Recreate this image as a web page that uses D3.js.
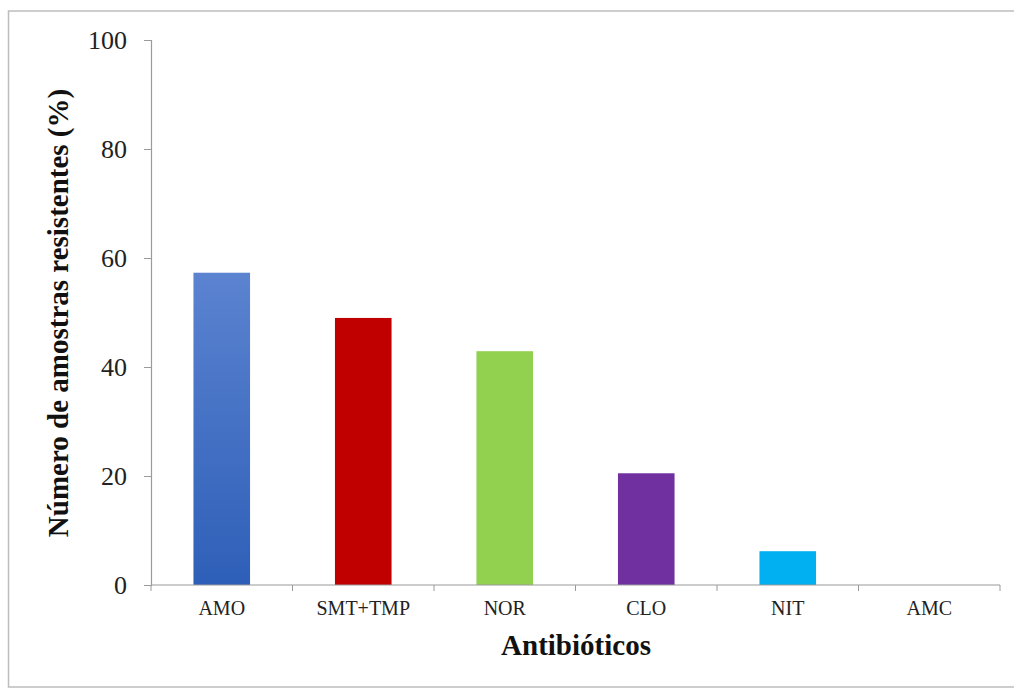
<!DOCTYPE html>
<html><head><meta charset="utf-8">
<script src="https://cdn.jsdelivr.net/npm/d3@7"></script>
<style>body{margin:0;background:#fff;} svg{display:block;}</style>
</head><body>
<svg id="c" width="1014" height="689"></svg>
<script>
const categories = ["AMO", "SMT+TMP", "NOR", "CLO", "NIT", "AMC"];
const values = [57.3, 49.0, 42.9, 20.5, 6.2, 0];
const colors = ["#3f6fc4", "#c00000", "#92d050", "#7030a0", "#00b0f0", "#7f7f7f"];
const yTicks = [0, 20, 40, 60, 80, 100];
const yTitle = "Número de amostras resistentes (%)";
const xTitle = "Antibióticos";

const svg = d3.select("#c");
svg.append("rect").attr("x", 8.5).attr("y", 11).attr("width", 1010).attr("height", 676)
  .attr("fill", "#fff").attr("stroke", "#bdbdbd").attr("stroke-width", 1.5);

const defs = svg.append("defs");
const g0 = defs.append("linearGradient").attr("id", "gBlue").attr("x1", 0).attr("y1", 0).attr("x2", 0).attr("y2", 1);
g0.append("stop").attr("offset", "0%").attr("stop-color", "#5b83d0");
g0.append("stop").attr("offset", "100%").attr("stop-color", "#2e5fb8");

const x = d3.scaleBand().domain(categories).range([151, 1000]).paddingInner(0.6).paddingOuter(0.3);
const y = d3.scaleLinear().domain([0, 100]).range([585, 40]);

svg.selectAll("rect.bar").data(categories).enter().append("rect")
  .attr("class", "bar")
  .attr("x", d => x(d))
  .attr("width", x.bandwidth())
  .attr("y", (d, i) => y(values[i]))
  .attr("height", (d, i) => y(0) - y(values[i]))
  .attr("fill", (d, i) => i === 0 ? "url(#gBlue)" : colors[i]);

// Y axis
const yAxis = d3.axisLeft(y).tickValues(yTicks).tickSize(7).tickPadding(17);
const gy = svg.append("g").attr("transform", "translate(151,0)").call(yAxis);
gy.select(".domain").attr("stroke", "#9a9a9a").attr("stroke-width", 1.2);
gy.selectAll(".tick line").attr("stroke", "#9a9a9a");
gy.selectAll(".tick text").attr("font-family", "Liberation Serif, Times New Roman, serif")
  .attr("font-size", 26).attr("fill", "#222");

// X axis
const step = x.step();
const boundaries = d3.range(categories.length + 1).map(i => 151 + i * step);
svg.append("line").attr("x1", 151).attr("x2", 1000).attr("y1", y(0)).attr("y2", y(0))
  .attr("stroke", "#9a9a9a").attr("stroke-width", 1.2);
svg.selectAll("line.xt").data(boundaries).enter().append("line")
  .attr("x1", d => d).attr("x2", d => d).attr("y1", y(0)).attr("y2", y(0) + 6)
  .attr("stroke", "#9a9a9a");
svg.selectAll("text.xl").data(categories).enter().append("text")
  .attr("x", d => x(d) + x.bandwidth() / 2).attr("y", 615)
  .attr("text-anchor", "middle")
  .attr("font-family", "Liberation Serif, Times New Roman, serif")
  .attr("font-size", 20).attr("fill", "#222").text(d => d);

svg.append("text").attr("x", 576).attr("y", 655).attr("text-anchor", "middle")
  .attr("font-family", "Liberation Serif, Times New Roman, serif").attr("font-weight", "bold")
  .attr("font-size", 29).attr("fill", "#111").text(xTitle);

svg.append("text").attr("transform", "translate(68,313) rotate(-90)").attr("text-anchor", "middle")
  .attr("font-family", "Liberation Serif, Times New Roman, serif").attr("font-weight", "bold")
  .attr("font-size", 29).attr("fill", "#111").text(yTitle);
</script>
</body></html>
